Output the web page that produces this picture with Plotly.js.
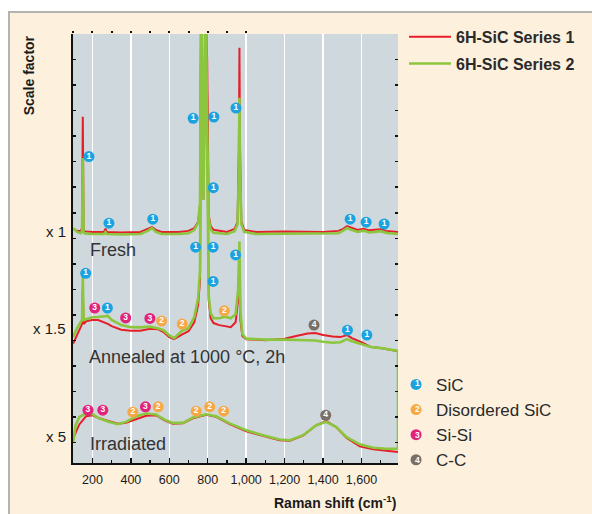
<!DOCTYPE html>
<html>
<head>
<meta charset="utf-8">
<script src="https://cdn.plot.ly/plotly-3.0.1.min.js"></script>
<style>
  html, body { margin: 0; padding: 0; background: #ffffff; overflow: hidden; }
  #frame { position: absolute; left: 8px; top: 11px; width: 620px; height: 540px;
           background: #fdf0dd; border: 2px solid #b3b3b3; }
  #chart { position: absolute; left: 0; top: 0; width: 592px; height: 514px; }
</style>
</head>
<body>
<div id="frame"></div>
<div id="chart"></div>
<script>
// ---------- data (Raman shift in cm-1, intensity in stacked scale units) ----------
const seriesNames = ['6H-SiC Series 1', '6H-SiC Series 2'];
const sampleNames = ['Fresh', 'Annealed at 1000 °C, 2h', 'Irradiated'];
const scaleLabels = ['x 1', 'x 1.5', 'x 5'];
const scaleLevels = [9.05, 5.28, 1.05];
const sampleLabelX = [175, 170, 175];
const sampleLabelY = [8.34, 4.15, 0.73];

const freshX = [100,120,140,146,150,154,160,200,260,268,275,350,450,490,510,530,560,650,700,730,750,760,766,772,778,789,797,805,815,830,900,940,955,962,965,968,975,990,1050,1200,1400,1480,1505,1525,1550,1580,1610,1640,1670,1700,1730,1790];
const freshS1 = [9.17,9.09,9.09,9.20,13.56,9.17,9.07,9.05,9.05,9.18,9.05,9.03,9.05,9.17,9.24,9.13,9.05,9.05,9.09,9.20,9.44,10.10,18,12.3,11.1,18,15.8,9.71,9.28,9.13,9.05,9.17,9.44,12.3,16.26,12.3,9.44,9.13,9.05,9.07,9.05,9.09,9.17,9.28,9.20,9.13,9.17,9.11,9.13,9.15,9.09,9.05];
const freshS2 = [9.20,9.05,9.00,9.10,11.94,9.05,8.99,8.97,8.97,9.05,8.97,8.95,8.97,9.10,9.20,9.05,8.97,8.97,9.00,9.12,9.40,10.20,19,13,11.5,19,13,9.60,9.15,9.02,8.97,9.08,9.35,11.5,14.3,11.5,9.35,9.05,8.97,8.98,8.97,9.00,9.10,9.20,9.12,9.05,9.10,9.03,9.05,9.08,9.01,8.97];

const annealX = [100,120,140,146,150,154,170,200,230,260,280,300,350,400,450,500,540,570,600,625,650,670,700,730,750,760,766,778,789,797,805,815,830,860,890,920,945,958,965,970,980,1000,1100,1200,1260,1320,1360,1400,1450,1490,1525,1550,1600,1650,1700,1750,1790];
const annealS1 = [4.68,5.01,5.36,5.44,6.77,5.44,5.56,5.60,5.60,5.52,5.45,5.36,5.22,5.18,5.18,5.26,5.24,5.13,4.93,4.85,4.97,5.05,5.16,5.51,6.18,7.16,18,10.3,18,14.2,6.38,5.67,5.48,5.40,5.36,5.32,5.51,6.38,7.86,5.60,4.97,4.85,4.81,4.87,4.97,5.07,5.09,5.01,4.95,4.93,5.01,4.89,4.73,4.54,4.50,4.44,4.38];
const annealS2 = [4.94,5.28,5.53,5.60,7.32,5.60,5.64,5.71,5.72,5.73,5.76,5.60,5.40,5.32,5.31,5.34,5.28,5.20,5.00,4.89,5.05,5.20,5.28,5.71,6.45,7.55,18,10.3,18,12.25,6.57,5.87,5.67,5.67,5.73,5.67,5.83,6.77,8.67,5.98,5.05,4.87,4.83,4.83,4.81,4.79,4.80,4.75,4.71,4.73,4.85,4.77,4.65,4.54,4.50,4.44,4.39];

const irrX = [100,113,132,167,202,236,289,332,375,427,479,531,575,618,671,723,792,844,914,1000,1087,1174,1227,1296,1365,1417,1469,1521,1591,1661,1730,1790];
const irrS1 = [0.97,1.20,1.51,1.83,1.87,1.75,1.64,1.54,1.58,1.71,1.85,1.87,1.67,1.54,1.56,1.75,1.89,1.81,1.52,1.24,1.05,0.89,0.87,1.07,1.48,1.64,1.40,0.99,0.65,0.54,0.48,0.43];
const irrS2 = [0.82,1.48,1.80,1.94,1.91,1.74,1.61,1.52,1.61,1.83,1.94,1.90,1.70,1.57,1.57,1.78,1.91,1.83,1.55,1.28,1.09,0.92,0.89,1.09,1.48,1.61,1.41,1.02,0.73,0.60,0.56,0.56];

// peak assignment markers
const bandNames = ['SiC', 'Disordered SiC', 'Si-Si', 'C-C'];
const bandDigits = ['1', '2', '3', '4'];
const sicX = [182,286,514,724,832,829,947,1541,1624,1718, 165,278,737,828,828,945,1527,1628];
const sicY = [12.0,9.39,9.55,13.5,13.55,10.78,13.9,9.55,9.43,9.36, 7.43,6.07,8.45,8.45,7.11,8.15,5.20,5.01];
const disX = [560,667,886, 410,542,740,810,883];
const disY = [5.56,5.44,5.96, 1.99,2.20,2.03,2.20,2.03];
const sisiX = [212,373,499, 177,254,476];
const sisiY = [6.07,5.68,5.66, 2.07,2.07,2.20];
const ccX = [1353, 1414];
const ccY = [5.40, 1.87];

const xTopTicks = [100,200,300,400,500,600,700,800,900,1000];

// ---------- styling ----------
const FONT = '"Liberation Sans", Arial, Helvetica, sans-serif';
const RED = '#e61e2a';
const GREEN = '#8cc63e';
const bandColors = ['#1aa3e0', '#f6a845', '#e3227a', '#7a6f67'];

const traces = [];
const s1 = [[freshX, freshS1], [annealX, annealS1], [irrX, irrS1]];
const s2 = [[freshX, freshS2], [annealX.concat([annealX[annealX.length-1]]), annealS2.concat([irrS2[irrS2.length-1]])], [irrX, irrS2]];
s1.forEach((d, i) => traces.push({
  x: d[0], y: d[1], type: 'scatter', mode: 'lines', name: seriesNames[0],
  legendgroup: 's1', showlegend: i === 0, legend: 'legend',
  line: {color: RED, width: 2}, hoverinfo: 'skip'
}));
s2.forEach((d, i) => traces.push({
  x: d[0], y: d[1], type: 'scatter', mode: 'lines', name: seriesNames[1],
  legendgroup: 's2', showlegend: i === 0, legend: 'legend',
  line: {color: GREEN, width: 2.6}, hoverinfo: 'skip'
}));

const bands = [[sicX, sicY], [disX, disY], [sisiX, sisiY], [ccX, ccY]];
bands.forEach((b, i) => {
  traces.push({
    x: b[0], y: b[1], type: 'scatter', mode: 'markers', name: bandNames[i],
    legend: 'legend2', showlegend: true, cliponaxis: false,
    marker: {symbol: 'circle', size: 11, color: bandColors[i], line: {width: 0}}
  });
  traces.push({
    x: b[0], y: b[1], xaxis: 'x2', yaxis: 'y2', type: 'scatter', mode: 'text', showlegend: false,
    text: b[0].map(() => bandDigits[i]), textposition: 'middle center', cliponaxis: false,
    textfont: {family: FONT, size: 8.5, color: '#ffffff', weight: 'bold'}, hoverinfo: 'skip'
  });
});

const annotations = [];
scaleLabels.forEach((t, i) => annotations.push({
  text: t, xref: 'paper', x: 0, xanchor: 'right', xshift: -5,
  yref: 'y', y: scaleLevels[i], yanchor: 'middle', showarrow: false,
  font: {family: FONT, size: 15, color: '#1a1a1a'}
}));
sampleNames.forEach((t, i) => annotations.push({
  text: t, xref: 'x', x: sampleLabelX[i], xanchor: 'left',
  yref: 'y', y: sampleLabelY[i], yanchor: 'middle', showarrow: false,
  font: {family: FONT, size: 18, color: '#333333'}
}));
annotations.push({
  text: 'Scale factor', textangle: -90, xref: 'paper', x: -0.135, xanchor: 'center',
  yref: 'paper', y: 0.904, yanchor: 'middle', showarrow: false,
  font: {family: FONT, size: 14, color: '#1a1a1a', weight: 'bold'}
});
annotations.push({
  text: 'Raman shift (cm<sup>-1</sup>)', xref: 'paper', x: 1, xanchor: 'right',
  yref: 'paper', y: 0, yanchor: 'middle', yshift: -39, showarrow: false,
  font: {family: FONT, size: 14, color: '#1a1a1a', weight: 'bold'}
});
// digits inside the legend2 markers
const legendDigitY = [0.1865, 0.1259, 0.0653, 0.0070];
bandDigits.forEach((d, i) => annotations.push({
  text: d, xref: 'paper', x: 1.0585, xanchor: 'center', yref: 'paper', y: legendDigitY[i],
  yanchor: 'middle', showarrow: false, borderpad: 0,
  font: {family: FONT, size: 8.5, color: '#ffffff', weight: 'bold'}
}));

const layout = {
  width: 592, height: 514,
  margin: {l: 73, r: 194, t: 34, b: 51, pad: 0},
  paper_bgcolor: 'rgba(0,0,0,0)',
  plot_bgcolor: '#cfd8dd',
  font: {family: FONT, color: '#1a1a1a'},
  showlegend: true,
  xaxis: {
    range: [99, 1790], tickvals: [200,400,600,800,1000,1200,1400,1600], tickformat: ',d',
    showgrid: true, gridcolor: '#ffffff', gridwidth: 1.5, zeroline: false,
    showline: true, linecolor: '#111111', linewidth: 2,
    ticks: 'inside', ticklen: 5, tickwidth: 1.5, tickcolor: '#111111', ticklabelstandoff: 4,
    minor: {dtick: 100, tick0: 100, ticks: 'inside', ticklen: 3, tickwidth: 1.2, tickcolor: '#111111', showgrid: false},
    tickfont: {family: FONT, size: 12.5, color: '#1a1a1a'}, fixedrange: true
  },
  xaxis2: {
    overlaying: 'x', side: 'top', range: [99, 1790], tickvals: xTopTicks,
    showticklabels: false, showgrid: false, zeroline: false, showline: false,
    ticks: 'outside', ticklen: 2, tickwidth: 2, tickcolor: '#111111', fixedrange: true
  },
  yaxis: {
    range: [0, 16.8], tick0: 0.8, dtick: 1, showticklabels: false,
    showgrid: false, zeroline: false,
    showline: true, linecolor: '#111111', linewidth: 2,
    ticks: 'inside', ticklen: 3, tickwidth: 1.5, tickcolor: '#111111', fixedrange: true
  },
  yaxis2: {
    overlaying: 'y', side: 'right', range: [0, 16.8], tick0: 0.8, dtick: 1,
    showticklabels: false, showgrid: false, zeroline: false, showline: false,
    ticks: 'inside', ticklen: 3, tickwidth: 1.5, tickcolor: '#111111', fixedrange: true
  },
  legend: {
    x: 1.0185, xanchor: 'left', y: 1.033, yanchor: 'top',
    bgcolor: 'rgba(0,0,0,0)', borderwidth: 0, traceorder: 'grouped', tracegroupgap: 3,
    itemwidth: 42, font: {family: FONT, size: 16, color: '#2a2a2a', weight: 'bold'}
  },
  legend2: {
    x: 0.994, xanchor: 'left', y: 0.224, yanchor: 'top',
    bgcolor: 'rgba(0,0,0,0)', borderwidth: 0, itemwidth: 30,
    font: {family: FONT, size: 17, color: '#2a2a2a'}
  },
  annotations: annotations
};

Plotly.newPlot('chart', traces, layout, {displayModeBar: false, staticPlot: true});
</script>
</body>
</html>
